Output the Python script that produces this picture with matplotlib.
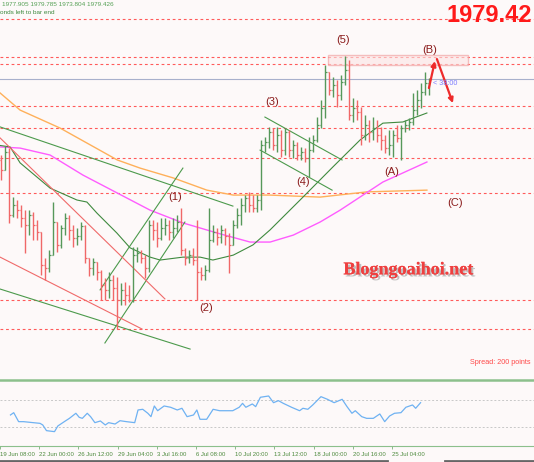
"""XAUUSD H4 Elliott-wave chart (MT4 style) recreated with matplotlib."""
import numpy as np
import matplotlib
matplotlib.use("Agg")
import matplotlib.pyplot as plt
import matplotlib.patheffects as pe
from matplotlib.patches import Rectangle
from matplotlib.lines import Line2D

BG = "#fdf9f9"
UP = "#56985a"
DOWN = "#f06868"
LEVEL = "#ff5a5a"

# ---- price bars (H4), open of each bar = previous close ----
first_open = 1951.5
closes = [
    1948.0, 1954.3, 1932.5, 1936.0, 1934.2, 1931.5, 1929.1, 1932.5, 1929.1, 1926.7,
    1915.3, 1914.3, 1918.7, 1930.1, 1922.2, 1928.0, 1931.5, 1927.4, 1924.6, 1925.3,
    1928.7, 1917.7, 1914.3, 1916.3, 1912.9, 1908.4, 1906.7, 1910.1, 1907.4, 1903.2,
    1906.7, 1905.0, 1903.2, 1918.7, 1919.4, 1917.7, 1914.3, 1929.1, 1927.4, 1924.6,
    1928.0, 1929.1, 1926.7, 1928.0, 1930.1, 1920.5, 1917.7, 1918.7, 1917.0, 1912.9,
    1911.8, 1913.6, 1923.9, 1926.7, 1925.0, 1927.4, 1925.3, 1922.2, 1929.1, 1932.5,
    1936.0, 1938.4, 1936.0, 1934.9, 1937.7, 1956.7, 1957.7, 1961.1, 1956.7, 1960.1,
    1954.9, 1961.1, 1954.9, 1956.7, 1953.2, 1954.3, 1952.2, 1954.9, 1958.4, 1963.6,
    1969.4, 1981.8, 1975.6, 1977.4, 1973.9, 1978.4, 1982.5, 1967.0, 1969.4, 1968.0,
    1960.1, 1963.6, 1961.1, 1962.5, 1960.1, 1958.4, 1955.6, 1956.7, 1960.1, 1959.1,
    1962.5, 1963.6, 1964.6, 1968.7, 1972.2, 1974.9, 1977.905, 1979.426,
]
highs = [
    1953.2, 1956.3, 1955.6, 1938.7, 1937.7, 1936.0, 1934.2, 1934.2, 1933.6, 1930.8,
    1925.6, 1917.7, 1920.5, 1937.0, 1926.7, 1929.1, 1933.2, 1932.5, 1929.1, 1928.0,
    1930.1, 1929.1, 1917.7, 1917.7, 1916.3, 1913.6, 1910.8, 1912.9, 1911.8, 1911.1,
    1909.1, 1909.4, 1908.4, 1921.5, 1921.5, 1920.5, 1918.7, 1930.8, 1930.8, 1930.1,
    1931.5, 1931.5, 1930.8, 1931.5, 1932.5, 1934.9, 1921.2, 1920.5, 1921.2, 1930.8,
    1914.6, 1915.3, 1934.9, 1929.1, 1928.0, 1929.1, 1928.0, 1926.3, 1930.8, 1934.9,
    1938.4, 1939.4, 1940.5, 1939.4, 1939.4, 1958.4, 1959.4, 1962.9, 1962.5, 1962.9,
    1961.8, 1962.5, 1961.8, 1958.4, 1957.7, 1956.0, 1955.6, 1959.4, 1960.1, 1966.3,
    1972.2, 1984.2, 1980.8, 1980.1, 1979.1, 1980.8, 1987.3, 1986.0, 1972.9, 1972.2,
    1969.8, 1967.0, 1965.3, 1966.3, 1965.3, 1962.9, 1960.1, 1961.8, 1961.8, 1963.6,
    1963.6, 1965.3, 1966.0, 1974.6, 1975.6, 1978.0, 1981.8, 1979.785,
]
lows = [
    1944.6, 1948.7, 1929.8, 1931.8, 1931.5, 1928.4, 1919.4, 1925.6, 1923.9, 1923.9,
    1911.8, 1910.1, 1912.9, 1918.7, 1919.8, 1921.2, 1925.6, 1923.9, 1921.5, 1922.2,
    1923.9, 1916.0, 1911.5, 1911.8, 1910.1, 1903.2, 1903.2, 1903.9, 1903.2, 1893.2,
    1901.5, 1901.5, 1902.5, 1902.5, 1916.3, 1916.0, 1910.8, 1912.9, 1923.9, 1921.5,
    1923.9, 1925.6, 1923.9, 1924.6, 1926.7, 1918.7, 1915.3, 1916.0, 1915.3, 1903.2,
    1910.1, 1910.1, 1912.9, 1923.2, 1922.2, 1922.9, 1922.2, 1912.5, 1923.9, 1928.0,
    1929.1, 1933.6, 1933.6, 1933.6, 1933.6, 1934.2, 1954.3, 1955.6, 1954.9, 1954.3,
    1952.5, 1953.2, 1952.5, 1952.2, 1951.5, 1951.5, 1950.8, 1945.6, 1954.3, 1957.7,
    1962.5, 1966.0, 1973.9, 1973.2, 1969.8, 1972.2, 1977.4, 1965.3, 1964.6, 1965.3,
    1956.7, 1958.4, 1957.7, 1958.4, 1957.7, 1954.9, 1953.9, 1953.2, 1952.5, 1957.7,
    1951.5, 1961.1, 1961.8, 1963.6, 1967.0, 1969.4, 1973.9, 1973.804,
]

# horizontal levels and bid
levels = [2000.0, 1987.1, 1984.5, 1970.1, 1962.6, 1952.1, 1940.0, 1903.2, 1893.1]
bid = 1979.426

# moving averages (read at bar positions)
ma_orange_x = [-0.3, 4.7, 14.7, 29.0, 34.7, 43.0, 51.4, 58.0, 67.0, 79.7, 91.4, 106.4]
ma_orange_y = [1974.6, 1968.7, 1962.5, 1951.5, 1948.7, 1945.3, 1941.1, 1939.4,
               1939.4, 1938.7, 1940.5, 1941.1]
ma_pink_x = [-0.3, 4.7, 12.2, 20.4, 29.0, 37.2, 45.4, 54.0, 62.2, 67.2, 73.0,
             79.7, 84.7, 95.4, 106.4]
ma_pink_y = [1956.0, 1955.6, 1953.2, 1946.3, 1940.1, 1934.2, 1929.8, 1926.3,
             1923.2, 1923.2, 1925.6, 1930.1, 1934.2, 1943.9, 1950.8]
ma_green_x = [-0.3, 2.2, 4.7, 12.2, 18.9, 21.4, 23.9, 28.9, 32.2, 37.2, 39.7, 45.4,
              49.7, 52.9, 58.0, 62.9, 67.2, 74.7, 82.9, 89.7, 95.4, 100.4, 106.4]
ma_green_y = [1956.5, 1956.0, 1950.5, 1941.8, 1937.7, 1937.0, 1933.2, 1926.3,
              1921.2, 1918.0, 1917.0, 1918.0, 1918.0, 1917.0, 1918.7, 1922.2,
              1927.4, 1937.7, 1949.1, 1958.4, 1964.2, 1964.6, 1967.7]

# drawn trend lines: (bar0, price0, bar1, price1)
green_lines = [
    (-0.3, 1962.9, 57.9, 1935.6),
    (-0.3, 1907.0, 47.2, 1886.3),
    (24.7, 1906.7, 45.4, 1948.7),
    (25.9, 1888.4, 45.9, 1930.1),
    (65.9, 1966.3, 85.2, 1951.5),
    (64.7, 1954.9, 82.7, 1941.1),
]
red_lines = [
    (-0.3, 1959.1, 40.9, 1903.6),
    (-0.3, 1918.0, 35.2, 1893.2),
]

# Elliott wave labels
wave_text = ["(1)", "(2)", "(3)", "(4)", "(5)", "(A)", "(B)", "(C)"]
wave_bar = [43.4, 51.2, 67.7, 75.4, 85.4, 97.7, 107.2, 113.4]
wave_price = [1938.7, 1900.5, 1971.5, 1943.9, 1992.9, 1947.4, 1989.4, 1936.7]

# RSI panel
rsi_bar = [-0.33, 0.5, 1.75, 3, 5.5, 7.2, 7.9, 8.85, 10.9, 11.75, 13.4, 14.7, 16.35,
           17.2, 18, 19.25, 20.1, 21.2, 22.6, 23.85, 24.7, 26.35, 27.6, 29.25, 31.35,
           32.2, 33.4, 34.7, 35.5, 36.35, 37.2, 38.85, 40.5, 42.2, 43.4, 44.7, 46.35,
           47.2, 48, 49.7, 51.35, 53, 56.35, 58, 58.85, 59.7, 61.35, 62.2, 63.4, 65.5,
           66.75, 68, 69.25, 71.35, 73.4, 74.25, 75.5, 76.75, 78.85, 80.5, 82.2, 84.25,
           85.5, 86.75, 87.6, 89.25, 90.5, 92.2, 93.85, 95.1, 96.35, 97.6, 99.25,
           100.5, 102.2, 103, 104.25]
rsi_val = [47.8, 51.2, 37.9, 37.9, 36.4, 35.4, 33.0, 24.6, 23.1, 31.5, 37.9, 42.8, 50.3,
           44.3, 42.8, 50.3, 45.3, 36.4, 38.9, 33.0, 36.4, 34.4, 39.3, 37.9, 36.4,
           55.2, 56.2, 50.3, 45.3, 61.1, 54.1, 61.1, 59.2, 55.2, 57.7, 45.3, 47.8,
           55.2, 41.4, 41.4, 56.2, 54.1, 54.1, 59.2, 65.0, 59.2, 64.1, 60.1, 74.0, 75.9,
           66.0, 69.0, 65.0, 59.2, 54.1, 57.7, 56.2, 62.6, 74.9, 71.0, 66.0, 71.0,
           60.1, 50.3, 54.1, 45.3, 42.8, 42.8, 49.3, 37.9, 46.3, 50.3, 51.2,
           59.2, 62.6, 57.7, 66.0]
rsi_levels = [70, 30]

tick_bars = [-3, 7, 17, 27, 37, 47, 57, 67, 77, 87, 97]
tick_labels = ["19 Jun 08:00", "22 Jun 00:00", "26 Jun 12:00", "29 Jun 04:00",
               "3 Jul 16:00", "6 Jul 08:00", "10 Jul 20:00", "13 Jul 12:00",
               "18 Jul 00:00", "20 Jul 16:00", "25 Jul 04:00"]

W, H = 534, 462
XLIM = (-0.325, 133.175)


def main():
    fig = plt.figure(figsize=(W / 100, H / 100), dpi=100, facecolor=BG)
    ax = fig.add_axes([0, 83 / H, 1, 379 / H], facecolor=BG)
    ax.set_xlim(*XLIM)
    ax.set_ylim(1875.98, 2006.66)
    ax.axis("off")

    for lv in levels:
        ax.axhline(lv, color=LEVEL, lw=0.8, ls=(0, (2.5, 2.5)), zorder=1)
    ax.axhline(bid, color="#a8b0cc", lw=0.8, zorder=1)

    # bars
    c = np.array(closes)
    o = np.concatenate([[first_open], c[:-1]])
    hi = np.maximum(np.array(highs), np.maximum(o, c))
    lo = np.minimum(np.array(lows), np.minimum(o, c))
    x = np.arange(len(c))
    col = [UP if cc >= oo else DOWN for oo, cc in zip(o, c)]
    ax.vlines(x, lo, hi, colors=col, lw=1.0, zorder=3)
    ax.hlines(o, x - 0.4, x, colors=col, lw=0.9, zorder=3)
    ax.hlines(c, x, x + 0.4, colors=col, lw=0.9, zorder=3)

    # moving averages
    ax.plot(ma_orange_x, ma_orange_y, color="#ffb05a", lw=1.0, zorder=2)
    ax.plot(ma_pink_x, ma_pink_y, color="#ff5cff", lw=1.0, zorder=2)
    ax.plot(ma_green_x, ma_green_y, color="#3f8a3f", lw=0.8, zorder=2)

    for x0, y0, x1, y1 in green_lines:
        ax.plot([x0, x1], [y0, y1], color="#4c9a4c", lw=0.8, zorder=2)
    for x0, y0, x1, y1 in red_lines:
        ax.plot([x0, x1], [y0, y1], color="#f06a6a", lw=0.8, zorder=2)

    # resistance box
    ax.add_patch(Rectangle((81.7, 1984.2), 35.0, 3.5, facecolor="#fce4e4",
                           edgecolor="#f09a9a", lw=1.0, alpha=0.6, zorder=2))

    for t, bx, py in zip(wave_text, wave_bar, wave_price):
        ax.text(bx, py, t, color="#8b1c1c", fontsize=8, ha="center", va="center",
                family="Liberation Sans", zorder=5)

    # projection arrows
    arrow = dict(arrowstyle="-|>", color="#ee2b2b", lw=1.6, mutation_scale=7,
                 shrinkA=0, shrinkB=0)
    ax.annotate("", xy=(108.4, 1985.6), xytext=(106.9, 1976.3), arrowprops=arrow,
                zorder=6)
    ax.annotate("", xy=(112.9, 1971.1), xytext=(108.9, 1986.3), arrowprops=arrow,
                zorder=6)
    ax.text(107.9, 1977.8, "< 38:00", color="#7b7bff", fontsize=5.2, va="center",
            ha="left", family="Liberation Sans", zorder=6)

    ax.text(0.764, 0.288, "Blogngoaihoi.net", transform=ax.transAxes,
            family="Liberation Serif", fontweight="bold", fontsize=13,
            color="#ee4040", ha="center", va="center", zorder=6,
            path_effects=[pe.withSimplePatchShadow(offset=(1.5, -1.5),
                                                   shadow_rgbFace="#777777",
                                                   alpha=0.45),
                          pe.Normal()])

    # RSI panel
    ax2 = fig.add_axes([0, 16 / H, 1, 65 / H], facecolor=BG)
    ax2.set_xlim(*XLIM)
    ax2.set_ylim(1.85, 98.1)
    for lv in rsi_levels:
        ax2.axhline(lv, color="#c8c8c8", lw=0.7, ls=(0, (2, 2)))
    ax2.plot(rsi_bar, rsi_val, color="#6fb2f2", lw=0.9)
    for s in ax2.spines.values():
        s.set_visible(False)
    ax2.set_yticks([])
    ax2.set_xticks(tick_bars)
    ax2.set_xticklabels(tick_labels, fontsize=4.3, color="#4d8a3d", ha="left",
                        family="Liberation Sans")
    ax2.tick_params(axis="x", length=2.5, width=0.6, color="#7ab07a", pad=1.5)

    # panel separators and status strip
    fig.add_artist(Line2D([0, 1], [1 - 380 / H] * 2, color="#8cc08c", lw=1.8))
    fig.add_artist(Line2D([0, 1], [1 - 446 / H] * 2, color="#8cc08c", lw=0.8))
    fig.add_artist(Line2D([0, 387 / W], [1 - 460.5 / H] * 2, color="#666666", lw=2))
    fig.add_artist(Line2D([445 / W, 1], [1 - 460.5 / H] * 2, color="#666666", lw=2))

    # header / overlay texts
    fig.text(2 / W, 1 - 5 / H, "1977.905 1979.785 1973.804 1979.426", fontsize=4.6,
             color="#55a055", va="center", family="Liberation Sans")
    fig.text(0, 1 - 13 / H, "onds left to bar end", fontsize=4.6, color="#3f8a3f",
             va="center", family="Liberation Sans")
    fig.text(532 / W, 1 - 16 / H, "1979.42", fontsize=17, fontweight="bold",
             color="#ff1a1a", va="center", ha="right", family="Liberation Sans")
    fig.text(470 / W, 1 - 362 / H, "Spread: 200 points", fontsize=5.2,
             color="#ff4a4a", va="center", ha="left", family="Liberation Sans")

    fig.savefig("out.png", dpi=100, facecolor=BG)


if __name__ == "__main__":
    main()
